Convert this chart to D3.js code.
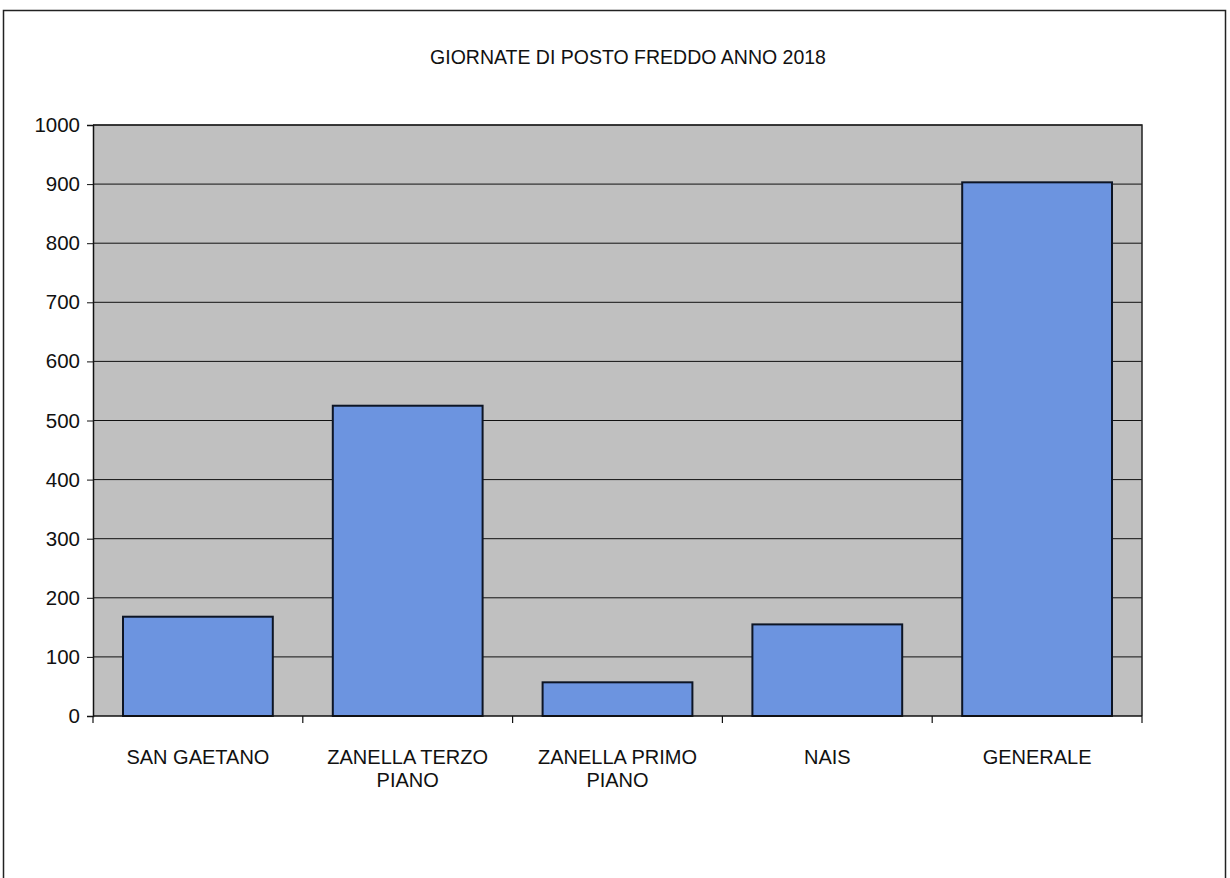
<!DOCTYPE html>
<html><head><meta charset="utf-8">
<script src="https://cdn.jsdelivr.net/npm/d3@7"></script>
<style>html,body{margin:0;padding:0;background:#fff;}svg{display:block;}</style>
</head><body>
<svg id="c" width="1230" height="878"></svg>
<script>
const title = "GIORNATE DI POSTO FREDDO ANNO 2018";
const categories = [["SAN GAETANO"], ["ZANELLA TERZO","PIANO"], ["ZANELLA PRIMO","PIANO"], ["NAIS"], ["GENERALE"]];
const values = [168, 525, 57, 155, 903];
const yTicks = [0,100,200,300,400,500,600,700,800,900,1000];

const svg = d3.select("#c");
const font = "'Liberation Sans', Arial, sans-serif";
// outer frame
svg.append("rect").attr("x",3.5).attr("y",10.5).attr("width",1222).attr("height",880)
  .attr("fill","#fff").attr("stroke","#222").attr("stroke-width",1.5);

const L=93, R=1142, T=125, B=716;
const x = d3.scaleBand().domain(categories.map((d,i)=>i)).range([L,R]).paddingInner(0.286).paddingOuter(0.143);
const xs = d3.scaleBand().domain(categories.map((d,i)=>i)).range([L,R]);
const y = d3.scaleLinear().domain([0,1000]).range([B,T]);

svg.append("text").attr("x",628).attr("y",64).attr("text-anchor","middle")
  .attr("font-family",font).attr("font-size",19.5).attr("fill","#111").text(title);

svg.append("rect").attr("x",L).attr("y",T).attr("width",R-L).attr("height",B-T).attr("fill","#c0c0c0");

// gridlines
svg.append("g").selectAll("line").data(yTicks.filter(d=>d>0)).join("line")
  .attr("x1",L).attr("x2",R).attr("y1",d=>y(d)).attr("y2",d=>y(d))
  .attr("stroke","#111").attr("stroke-width",1);

// bars
svg.append("g").selectAll("rect").data(values).join("rect")
  .attr("x",(d,i)=>x(i)).attr("width",x.bandwidth())
  .attr("y",d=>y(d)).attr("height",d=>B-y(d))
  .attr("fill","#6c94e0").attr("stroke","#0d1525").attr("stroke-width",2);

// plot border right/top
svg.append("path").attr("d",`M${L},${T}H${R}V${B}`).attr("fill","none").attr("stroke","#222").attr("stroke-width",1.5);

// y axis
const ya = svg.append("g").attr("transform",`translate(${L},0)`)
  .call(d3.axisLeft(y).tickValues(yTicks).tickSize(6).tickPadding(7).tickFormat(d3.format("d")));
ya.select(".domain").attr("stroke","#111").attr("stroke-width",1.5);
ya.selectAll(".tick line").attr("stroke","#111");
ya.selectAll("text").attr("font-family",font).attr("font-size",20.5).attr("fill","#111");

// x axis
const xa = svg.append("g").attr("transform",`translate(0,${B})`);
xa.append("line").attr("x1",L).attr("x2",R).attr("y1",0).attr("y2",0).attr("stroke","#111").attr("stroke-width",1.5);
const bounds = categories.map((d,i)=>xs(i)).concat([R]);
xa.selectAll("line.t").data(bounds).join("line").attr("class","t")
  .attr("x1",d=>d).attr("x2",d=>d).attr("y1",0).attr("y2",7).attr("stroke","#111").attr("stroke-width",1.2);
const lab = xa.selectAll("text").data(categories).join("text")
  .attr("x",(d,i)=>x(i)+x.bandwidth()/2).attr("y",48).attr("text-anchor","middle")
  .attr("font-family",font).attr("font-size",20).attr("fill","#111");
lab.selectAll("tspan").data(d=>d).join("tspan")
  .attr("x",function(){return this.parentNode.getAttribute("x");})
  .attr("dy",(d,i)=>i===0?0:23).text(d=>d);
</script>
</body></html>
